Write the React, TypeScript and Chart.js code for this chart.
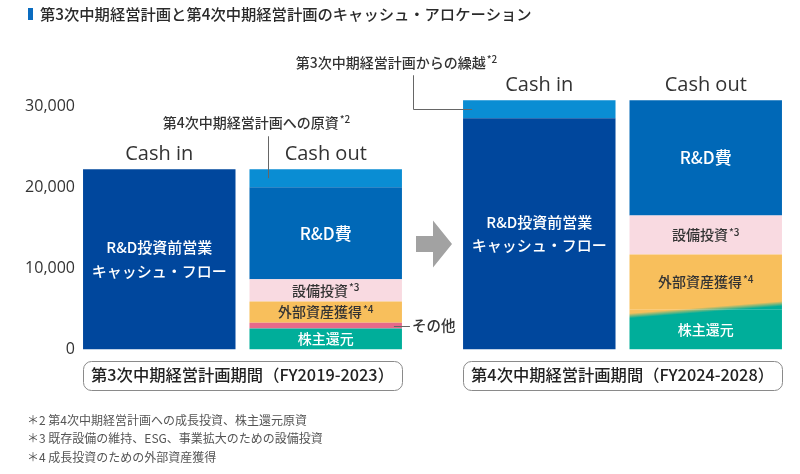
import React, { useEffect, useRef } from 'react';
import { Chart, registerables } from 'chart.js';

Chart.register(...registerables);

const JP = "'Noto Sans CJK JP', 'Noto Sans', sans-serif";
const LATIN = "'Open Sans', 'Noto Sans', sans-serif";

// ---- data ----
const periods = ['第3次中期経営計画期間（FY2019-2023）', '第4次中期経営計画期間（FY2024-2028）'];
const stackNames = ['Cash in', 'Cash out'];
const yTicks = [0, 10000, 20000, 30000];
const yMax = 38000;

// Cash in
const operatingCashFlow = [22200, 28500]; // R&D投資前営業キャッシュ・フロー
const carryOver = [0, 2200]; // 第3次中期経営計画からの繰越
// Cash out
const shareholderReturns = [2600, 4900]; // 株主還元
const others = [700, 0]; // その他
const externalAssets = [2600, 6800]; // 外部資産獲得
const capex = [2750, 4800]; // 設備投資
const rdExpense = [11350, 14200]; // R&D費
const reserveForNext = [2200, 0]; // 第4次中期経営計画への原資

const footnotes = [
  '＊2 第4次中期経営計画への成長投資、株主還元原資',
  '＊3 既存設備の維持、ESG、事業拡大のための設備投資',
  '＊4 成長投資のための外部資産獲得',
];
const title = '第3次中期経営計画と第4次中期経営計画のキャッシュ・アロケーション';

// ---- styles ----
const C_NAVY = '#00479d';
const C_SKY = '#0a8dd3';
const C_BLUE = '#0068b7';
const C_PINK = '#f9dae1';
const C_ORANGE = '#f8bf5c';
const C_MAGENTA = '#e76a8a';
const C_TEAL = '#00ae9a';
const CAT_PCT = 0.876;
const BAR_PCT = 0.916;

const slantFill = (base: string) => (c: any) => {
  if (c.type !== 'data' || c.dataIndex !== 1) return base;
  const chart = c.chart;
  const xs = chart.scales?.x;
  const ys = chart.scales?.y;
  if (!xs || !ys || !chart.chartArea) return base;
  const p0 = xs.getPixelForValue(0);
  const p1 = xs.getPixelForValue(1);
  const chunk = ((p1 - p0) * CAT_PCT) / 2;
  const cx = p1 + chunk / 2;
  const cy = ys.getPixelForValue(shareholderReturns[1]);
  const k = 0.08;
  const n = Math.hypot(k, 1);
  const nx = k / n;
  const ny = 1 / n;
  const h = 2.5;
  const g = chart.ctx.createLinearGradient(cx - nx * h, cy - ny * h, cx + nx * h, cy + ny * h);
  g.addColorStop(0, C_ORANGE);
  g.addColorStop(1, C_TEAL);
  return g;
};

const datasets = [
  { label: 'R&D投資前営業キャッシュ・フロー', data: operatingCashFlow, stack: stackNames[0], backgroundColor: C_NAVY },
  { label: '第3次中期経営計画からの繰越', data: carryOver, stack: stackNames[0], backgroundColor: C_SKY },
  { label: '株主還元', data: shareholderReturns, stack: stackNames[1], backgroundColor: slantFill(C_TEAL) },
  { label: 'その他', data: others, stack: stackNames[1], backgroundColor: C_MAGENTA },
  { label: '外部資産獲得', data: externalAssets, stack: stackNames[1], backgroundColor: slantFill(C_ORANGE) },
  { label: '設備投資', data: capex, stack: stackNames[1], backgroundColor: C_PINK },
  { label: 'R&D費', data: rdExpense, stack: stackNames[1], backgroundColor: C_BLUE },
  { label: '第4次中期経営計画への原資', data: reserveForNext, stack: stackNames[1], backgroundColor: C_SKY },
];

type SegLabel = { lines: string[]; sup?: string; color: string; size: number; weight: number };
const segLabels: Record<string, SegLabel> = {
  'R&D投資前営業キャッシュ・フロー': { lines: ['R&D投資前営業', 'キャッシュ・フロー'], color: '#ffffff', size: 15, weight: 500 },
  'R&D費': { lines: ['R&D費'], color: '#ffffff', size: 17, weight: 500 },
  '設備投資': { lines: ['設備投資'], sup: '*3', color: '#333333', size: 14, weight: 500 },
  '外部資産獲得': { lines: ['外部資産獲得'], sup: '*4', color: '#333333', size: 14, weight: 500 },
  '株主還元': { lines: ['株主還元'], color: '#ffffff', size: 14, weight: 500 },
};

function drawRich(
  ctx: CanvasRenderingContext2D,
  x: number,
  y: number,
  main: string,
  sup: string | undefined,
  size: number,
  color: string,
  weight: number,
  align: 'center' | 'left' = 'center'
) {
  ctx.textBaseline = 'middle';
  ctx.textAlign = 'left';
  ctx.font = `${weight} ${size}px ${JP}`;
  const w1 = ctx.measureText(main).width;
  const supSize = Math.round(size * 0.68);
  ctx.font = `${weight} ${supSize}px ${JP}`;
  const w2 = sup ? ctx.measureText(sup).width + 1 : 0;
  const x0 = align === 'center' ? x - (w1 + w2) / 2 : x;
  ctx.fillStyle = color;
  ctx.font = `${weight} ${size}px ${JP}`;
  ctx.fillText(main, x0, y);
  if (sup) {
    ctx.font = `${weight} ${supSize}px ${JP}`;
    ctx.fillText(sup, x0 + w1 + 1, y - size * 0.22);
  }
}

export default function App() {
  const ref = useRef<HTMLCanvasElement>(null);

  useEffect(() => {
    const canvas = ref.current;
    if (!canvas) return;

    const el = (chart: any, di: number, i: number) =>
      chart.getDatasetMeta(di).data[i].getProps(['x', 'y', 'base', 'width'], true);
    const dsIndex = (label: string) => datasets.findIndex((d) => d.label === label);

    const decor = {
      id: 'decor',
      afterDatasetsDraw(chart: any) {
        const ctx: CanvasRenderingContext2D = chart.ctx;
        ctx.save();
        // segment labels
        datasets.forEach((ds, di) => {
          const cfg = segLabels[ds.label];
          if (!cfg) return;
          ds.data.forEach((v, i) => {
            if (!v) return;
            const e = el(chart, di, i);
            const cy = (e.y + e.base) / 2;
            const lh = cfg.size * 1.55;
            cfg.lines.forEach((line, li) => {
              const ly = cy + (li - (cfg.lines.length - 1) / 2) * lh;
              drawRich(ctx, e.x, ly, line, li === cfg.lines.length - 1 ? cfg.sup : undefined, cfg.size, cfg.color, cfg.weight);
            });
          });
        });

        // Cash in / Cash out headers
        periods.forEach((_, i) => {
          stackNames.forEach((s) => {
            let top = Infinity;
            let x = 0;
            datasets.forEach((ds, di) => {
              if (ds.stack !== s) return;
              const e = el(chart, di, i);
              x = e.x;
              if (ds.data[i]) top = Math.min(top, e.y);
            });
            ctx.font = `400 20px ${LATIN}`;
            ctx.fillStyle = '#333';
            ctx.textAlign = 'center';
            ctx.textBaseline = 'middle';
            ctx.fillText(s, x, top - 15);
          });
        });

        ctx.strokeStyle = '#666';
        ctx.lineWidth = 1;

        // 第4次中期経営計画への原資
        {
          const e = el(chart, dsIndex('第4次中期経営計画への原資'), 0);
          const lx = Math.round(e.x - e.width / 2 + 19) + 0.5;
          const cy = (e.y + e.base) / 2;
          ctx.beginPath();
          ctx.moveTo(lx, e.y - 33);
          ctx.lineTo(lx, cy);
          ctx.stroke();
          drawRich(ctx, lx - 12, e.y - 47, '第4次中期経営計画への原資', '*2', 14, '#333', 500);
        }
        // 第3次中期経営計画からの繰越
        {
          const e = el(chart, dsIndex('第3次中期経営計画からの繰越'), 1);
          const lx = Math.round(e.x - e.width / 2 - 50) + 0.5;
          const cy = Math.round((e.y + e.base) / 2) + 0.5;
          ctx.beginPath();
          ctx.moveTo(lx, e.y - 25);
          ctx.lineTo(lx, cy);
          ctx.lineTo(e.x - e.width / 2 + 9, cy);
          ctx.stroke();
          drawRich(ctx, lx - 17, e.y - 37.5, '第3次中期経営計画からの繰越', '*2', 14, '#333', 500);
        }
        // その他
        {
          const e = el(chart, dsIndex('その他'), 0);
          const cy = Math.round((e.y + e.base) / 2) + 0.5;
          const rx = e.x + e.width / 2;
          ctx.beginPath();
          ctx.moveTo(rx - 8, cy);
          ctx.lineTo(rx + 8, cy);
          ctx.stroke();
          drawRich(ctx, rx + 10, cy - 1, 'その他', undefined, 14.5, '#333', 500, 'left');
        }

        // arrow between the periods
        {
          const a = el(chart, datasets.length - 1, 0);
          const b = el(chart, 0, 1);
          const cx = (a.x + a.width / 2 + b.x - b.width / 2) / 2 + 1.5;
          const cy = chart.chartArea.bottom - 105.5;
          ctx.fillStyle = '#a2a2a2';
          ctx.beginPath();
          ctx.moveTo(cx - 18, cy - 8);
          ctx.lineTo(cx - 1, cy - 8);
          ctx.lineTo(cx - 1, cy - 23.5);
          ctx.lineTo(cx + 18, cy);
          ctx.lineTo(cx - 1, cy + 23.5);
          ctx.lineTo(cx - 1, cy + 8);
          ctx.lineTo(cx - 18, cy + 8);
          ctx.closePath();
          ctx.fill();
        }
        ctx.restore();
      },
      afterDraw(chart: any) {
        const ctx: CanvasRenderingContext2D = chart.ctx;
        ctx.save();
        // period boxes around x-axis labels
        periods.forEach((_, i) => {
          const a = el(chart, 0, i);
          const b = el(chart, datasets.length - 1, i);
          const left = Math.round(a.x - a.width / 2) + 0.5;
          const right = Math.round(b.x + b.width / 2) + 0.5;
          const top = Math.round(chart.chartArea.bottom + 11.5) + 0.5;
          const bottom = top + 29;
          ctx.strokeStyle = '#8a8a8a';
          ctx.lineWidth = 1;
          ctx.beginPath();
          (ctx as any).roundRect(left, top, right - left, bottom - top, 8);
          ctx.stroke();
        });

        // title
        ctx.fillStyle = '#0a6cc0';
        ctx.fillRect(28, 8, 5, 12);
        ctx.fillStyle = '#2a2a2a';
        ctx.font = `500 15.3px ${JP}`;
        ctx.textAlign = 'left';
        ctx.textBaseline = 'middle';
        ctx.fillText(title, 40, 14.5);

        // footnotes
        ctx.fillStyle = '#555';
        ctx.font = `400 12px ${JP}`;
        footnotes.forEach((t, i) => {
          ctx.fillText(t, 27, 420 + i * 18.5);
        });
        ctx.restore();
      },
    };

    const chart = new Chart(canvas, {
      type: 'bar',
      data: { labels: periods.map((_, i) => i), datasets: datasets as any },
      options: {
        animation: false,
        responsive: false,
        categoryPercentage: CAT_PCT,
        barPercentage: BAR_PCT,
        layout: { padding: { top: 41, left: 0, right: 15, bottom: 84.5 } },
        plugins: { legend: { display: false }, tooltip: { enabled: false }, title: { display: false } },
        scales: {
          x: {
            type: 'linear',
            offset: false,
            min: -0.4276,
            max: 1.4276,
            grid: { display: false, drawTicks: false, offset: false },
            border: { display: false },
            afterBuildTicks: (s: any) => {
              s.ticks = periods.map((_, i) => ({ value: i }));
            },
            afterFit: (s: any) => {
              s.height = 40;
            },
            ticks: {
              autoSkip: false,
              maxRotation: 0,
              padding: 16,
              color: '#222',
              font: { family: JP, size: 16.3, weight: 500 as any },
              callback: (v: any) => periods[Number(v)] ?? '',
            },
          },
          y: {
            stacked: true,
            min: 0,
            max: yMax,
            grid: { display: false, drawTicks: false },
            border: { display: false },
            afterBuildTicks: (s: any) => {
              s.ticks = yTicks.map((v) => ({ value: v }));
            },
            afterFit: (s: any) => {
              s.width = 80;
            },
            ticks: {
              padding: 5,
              color: '#333',
              font: { family: LATIN, size: 16 },
              callback: (v: any) => Number(v).toLocaleString('en-US'),
            },
          },
        },
      },
      plugins: [decor],
    });
    return () => chart.destroy();
  }, []);

  return (
    <div style={{ position: 'absolute', left: 0, top: 0, width: 800, height: 474, background: '#fff' }}>
      <canvas ref={ref} width={800} height={474} />
    </div>
  );
}
